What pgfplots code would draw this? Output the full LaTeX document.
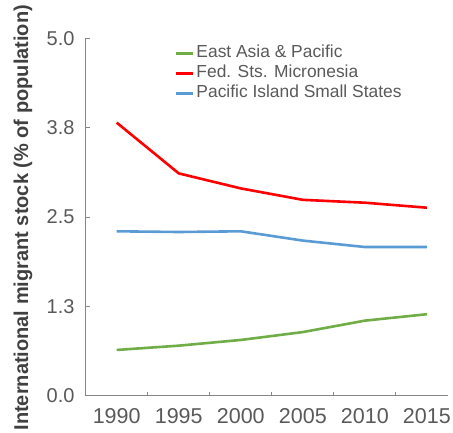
\documentclass[border=0pt]{standalone}
\usepackage{pgfplots}
\pgfplotsset{compat=1.18}
\usepackage{fontspec}
\setmainfont{Liberation Sans}
\definecolor{eapgreen}{HTML}{70AD47}
\definecolor{fsmred}{HTML}{FF0000}
\definecolor{pisblue}{HTML}{5B9BD5}
\definecolor{axisgray}{HTML}{868686}
\definecolor{labelgray}{HTML}{595959}
\definecolor{titlegray}{HTML}{404040}

\begin{document}
\begin{tikzpicture}
\useasboundingbox (0,0) rectangle (453pt,432pt);
\clip (0,0) rectangle (453pt,432pt);
\begin{axis}[
    at={(86pt,36.3pt)}, anchor=south west,
    scale only axis, width=362pt, height=357.4pt,
    xmin=-0.495, xmax=5.34, ymin=0, ymax=5,
    axis x line*=bottom, axis y line*=left,
    axis line style={axisgray, line width=1pt},
    tick style={axisgray, line width=1pt},
    tick align=inside, major tick length=4pt,
    % category separators between the years
    xtick={0.5,1.5,2.5,3.5,4.5}, xticklabels={},
    extra x ticks={0,1,2,3,4,5},
    extra x tick labels={1990,1995,2000,2005,2010,2015},
    extra x tick style={major tick length=0pt},
    xticklabel style={font=\fontsize{21.5}{24}\selectfont, labelgray, yshift=-9pt},
    ytick={0,1.25,2.5,3.75,5},
    yticklabels={0.0,1.3,2.5,3.8,5.0},
    yticklabel style={font=\fontsize{20}{23}\selectfont, labelgray, xshift=-8pt},
    ylabel={International migrant stock (\% of population)},
    ylabel style={font=\bfseries\fontsize{20}{24}\selectfont, titlegray,
        at={(axis description cs:-0.174,0.498)}, anchor=center},
    legend style={at={(axis description cs:0.245,0.986)}, anchor=north west,
        draw=none, fill=none, inner sep=0pt,
        font=\fontsize{17.4}{20}\selectfont, text=labelgray,
        nodes={inner sep=2pt, text height=12pt, text depth=4pt}},
    legend cell align=left,
    legend image code/.code={\draw[#1] (0pt,0pt) -- (17pt,0pt);},
    every axis plot/.append style={line width=2.6pt, line join=round},
]
\addplot[eapgreen] coordinates {
    (0,0.64) (1,0.70) (2,0.78) (3,0.89) (4,1.05) (5,1.14)
};
\addlegendentry{East Asia \& Pacific}
\addplot[fsmred] coordinates {
    (0,3.82) (1,3.11) (2,2.90) (3,2.74) (4,2.70) (5,2.63)
};
\addlegendentry{Fed. Sts. Micronesia}
\addplot[pisblue] coordinates {
    (0,2.30) (1,2.29) (2,2.30) (3,2.17) (4,2.08) (5,2.08)
};
\addlegendentry{Pacific Island Small States}
\end{axis}
\end{tikzpicture}
\end{document}
